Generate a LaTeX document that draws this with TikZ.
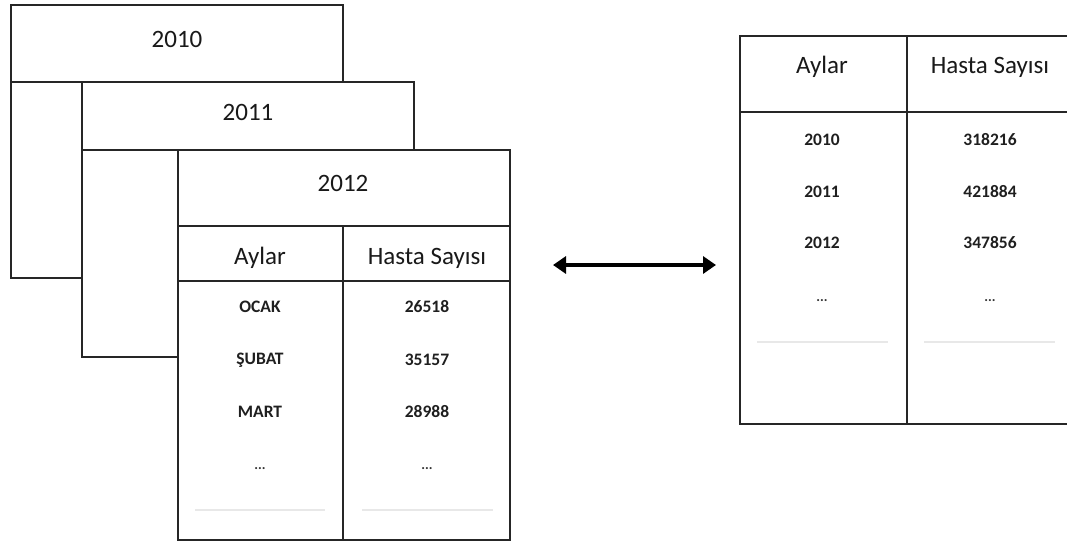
\documentclass[tikz,border=0pt]{standalone}
\usepackage{fontspec}
\setmainfont{Carlito}
\usetikzlibrary{arrows.meta}
\begin{document}
\begin{tikzpicture}[x=1pt,y=-1pt,
  frame/.style={draw=black!85,line width=1.4pt,fill=white},
  rule/.style={draw=black!85,line width=1.4pt},
  faint/.style={draw=black!9,line width=1.4pt},
  title/.style={font=\fontsize{25}{30}\selectfont,text=black!90,inner sep=0pt},
  cell/.style={font=\fontsize{17.5}{21}\selectfont\bfseries,text=black!88,inner sep=0pt},
  dots/.style={font=\fontsize{14}{17}\selectfont\bfseries,text=black!80,inner sep=0pt}]
\useasboundingbox (0,0) rectangle (1067,542);

% stacked yearly sheets
\draw[frame] (11,5) rectangle (343,278);
\draw[rule] (11,82) -- (343,82);
\node[title] (y2010) at (177,39) {2010};

\draw[frame] (82,82) rectangle (414,357);
\draw[rule] (82,150) -- (414,150);
\node[title] (y2011) at (248,112) {2011};

\draw[frame] (178,150) rectangle (510,540);
\draw[rule] (178,226) -- (510,226);
\draw[rule] (178,281) -- (510,281);
\draw[rule] (343,226) -- (343,540);
\node[title] (y2012) at (343,183) {2012};
\node[title] (ha) at (260,258) {Aylar};
\node[title] (hh) at (427,258) {Hasta Sayısı};
\node[cell] (m1) at (260,307) {OCAK};
\node[cell] (v1) at (427,307) {26518};
\node[cell] (m2) at (260,360) {ŞUBAT};
\node[cell] (v2) at (427,360) {35157};
\node[cell] (m3) at (260,412) {MART};
\node[cell] (v3) at (427,412) {28988};
\node[dots] (m4) at (260,469) {...};
\node[dots] (v4) at (427,469) {...};
\draw[faint] (195,510) -- (325,510);
\draw[faint] (362,510) -- (493,510);

% yearly totals table
\draw[rule] (1068,36) -- (740,36) -- (740,424) -- (1068,424);
\draw[rule] (740,112) -- (1068,112);
\draw[rule] (907,36) -- (907,424);
\node[title] (ra) at (822,67) {Aylar};
\node[title] (rh) at (990,67) {Hasta Sayısı};
\node[cell] (r1) at (822,140) {2010};
\node[cell] (s1) at (990,140) {318216};
\node[cell] (r2) at (822,192) {2011};
\node[cell] (s2) at (990,192) {421884};
\node[cell] (r3) at (822,243) {2012};
\node[cell] (s3) at (990,243) {347856};
\node[dots] (r4) at (822,301) {...};
\node[dots] (s4) at (990,301) {...};
\draw[faint] (757,342) -- (888,342);
\draw[faint] (924,342) -- (1055,342);

% two-way link between the tables
\coordinate (la) at (553,265);
\coordinate (lb) at (716,265);
\draw[line width=3.2pt,{Triangle[length=13pt,width=17pt]}-{Triangle[length=13pt,width=17pt]}] (la) -- (lb);
\end{tikzpicture}
\end{document}
